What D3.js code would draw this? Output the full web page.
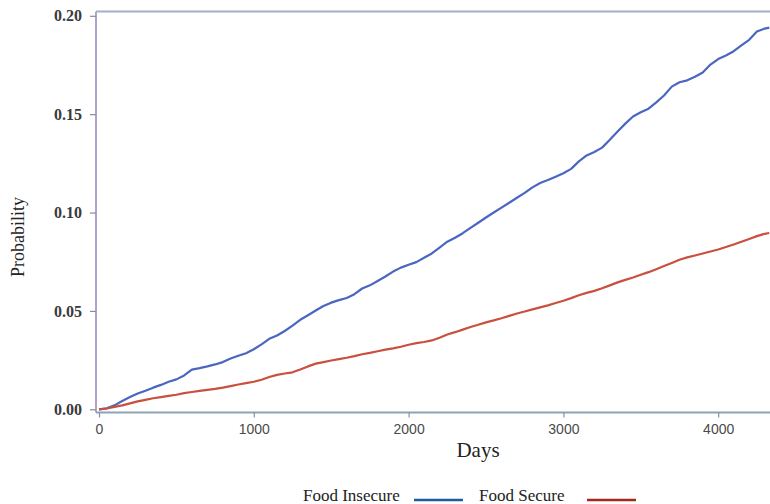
<!DOCTYPE html>
<html>
<head>
<meta charset="utf-8">
<script src="https://cdn.jsdelivr.net/npm/d3@7"></script>
<style>
  html, body { margin: 0; padding: 0; background: #fff; }
  svg { display: block; }
</style>
</head>
<body>
<svg id="chart" width="770" height="504"></svg>
<script>
// Cumulative probability of the event over follow-up time, by food security status
const days = [
  0, 50, 100, 150, 200, 250, 300, 350, 400, 450, 500, 550, 600, 650, 700, 750, 800, 850, 900, 950,
  1000, 1050, 1100, 1150, 1200, 1250, 1300, 1350, 1400, 1450, 1500, 1550, 1600, 1650, 1700, 1750,
  1800, 1850, 1900, 1950, 2000, 2050, 2100, 2150, 2200, 2250, 2300, 2350, 2400, 2450, 2500, 2550,
  2600, 2650, 2700, 2750, 2800, 2850, 2900, 2950, 3000, 3050, 3100, 3150, 3200, 3250, 3300, 3350,
  3400, 3450, 3500, 3550, 3600, 3650, 3700, 3750, 3800, 3850, 3900, 3950, 4000, 4050, 4100, 4150,
  4200, 4250, 4300, 4330
];

const foodInsecure = [
  0.0000, 0.0005, 0.0020, 0.0042, 0.0062, 0.0080, 0.0094, 0.0110, 0.0124, 0.0140, 0.0152, 0.0172,
  0.0202, 0.0209, 0.0218, 0.0228, 0.0240, 0.0258, 0.0272, 0.0285, 0.0305, 0.0330, 0.0358, 0.0375,
  0.0398, 0.0425, 0.0455, 0.0478, 0.0502, 0.0525, 0.0542, 0.0555, 0.0566, 0.0585, 0.0614, 0.0630,
  0.0652, 0.0675, 0.0700, 0.0720, 0.0735, 0.0748, 0.0770, 0.0792, 0.0822, 0.0852, 0.0872, 0.0895,
  0.0922, 0.0948, 0.0975, 0.1000, 0.1025, 0.1050, 0.1075, 0.1100, 0.1128, 0.1150, 0.1165, 0.1182,
  0.1200, 0.1222, 0.1260, 0.1290, 0.1308, 0.1330, 0.1370, 0.1412, 0.1452, 0.1488, 0.1510, 0.1528,
  0.1560, 0.1595, 0.1640, 0.1662, 0.1672, 0.1690, 0.1712, 0.1752, 0.1780, 0.1798, 0.1820, 0.1850,
  0.1878, 0.1920, 0.1935, 0.1940
];

const foodSecure = [
  0.0000, 0.0004, 0.0012, 0.0020, 0.0030, 0.0040, 0.0048, 0.0056, 0.0062, 0.0068, 0.0074, 0.0082,
  0.0088, 0.0094, 0.0099, 0.0104, 0.0110, 0.0118, 0.0126, 0.0133, 0.0140, 0.0150, 0.0164, 0.0175,
  0.0182, 0.0188, 0.0202, 0.0218, 0.0232, 0.0240, 0.0248, 0.0255, 0.0262, 0.0270, 0.0280, 0.0287,
  0.0295, 0.0303, 0.0310, 0.0318, 0.0328, 0.0336, 0.0342, 0.0350, 0.0364, 0.0380, 0.0392, 0.0405,
  0.0418, 0.0430, 0.0442, 0.0452, 0.0463, 0.0475, 0.0487, 0.0497, 0.0508, 0.0518, 0.0528, 0.0540,
  0.0552, 0.0565, 0.0580, 0.0592, 0.0602, 0.0615, 0.0630, 0.0645, 0.0658, 0.0670, 0.0684, 0.0697,
  0.0712, 0.0728, 0.0744, 0.0760, 0.0772, 0.0782, 0.0792, 0.0802, 0.0812, 0.0825, 0.0838, 0.0852,
  0.0866, 0.0880, 0.0892, 0.0896
];

const xTicks = [0, 1000, 2000, 3000, 4000];
const yTicks = [0, 0.05, 0.10, 0.15, 0.20];

const seriesNames = ["Food Insecure", "Food Secure"];
const lineColors = ["#4a66c0", "#c9503f"];
const legendColors = ["#1f5c9e", "#a3281e"];

const svg = d3.select("#chart");

const frame = { left: 96, top: 11.5, right: 782, bottom: 412.5 };

const x = d3.scaleLinear().domain([0, 4400]).range([99, 99 + 4400 * 0.1548]);
const y = d3.scaleLinear().domain([0, 0.2]).range([409.3, 15.8]);

// plot frame
svg.append("line")
  .attr("x1", frame.left).attr("x2", frame.right)
  .attr("y1", frame.top).attr("y2", frame.top)
  .attr("stroke", "#a3b0c4").attr("stroke-width", 2);
svg.append("line")
  .attr("x1", frame.right).attr("x2", frame.right)
  .attr("y1", frame.top).attr("y2", frame.bottom)
  .attr("stroke", "#a3b0c4").attr("stroke-width", 2);

// y axis
const yAxis = svg.append("g")
  .attr("transform", `translate(${frame.left},0)`)
  .call(d3.axisLeft(y).tickValues(yTicks).tickFormat(d3.format(".2f")).tickSize(6).tickPadding(8));
yAxis.select(".domain")
  .attr("d", `M0,${frame.top}V${frame.bottom}`)
  .attr("stroke", "#b3a3cc").attr("stroke-width", 2);
yAxis.selectAll(".tick line").attr("stroke", "#8a8a9a").attr("stroke-width", 1.2);
yAxis.selectAll(".tick text")
  .attr("font-family", "'Liberation Serif', 'Times New Roman', serif")
  .attr("font-weight", "bold")
  .attr("font-size", 16)
  .attr("fill", "#3a3a3a");

// x axis
const xAxis = svg.append("g")
  .attr("transform", `translate(0,${frame.bottom})`)
  .call(d3.axisBottom(x).tickValues(xTicks).tickFormat(d3.format("d")).tickSize(5).tickPadding(7));
xAxis.select(".domain")
  .attr("d", `M${frame.left},0H${frame.right}`)
  .attr("stroke", "#8fa3b8").attr("stroke-width", 2);
xAxis.selectAll(".tick line").attr("stroke", "#7f93a8").attr("stroke-width", 1.2);
xAxis.selectAll(".tick text")
  .attr("font-family", "'Liberation Sans', Arial, sans-serif")
  .attr("font-size", 14)
  .attr("fill", "#4a4a4a");

// curves
const line = d3.line()
  .curve(d3.curveLinear)
  .x((d, i) => x(days[i]))
  .y(d => y(d));

[foodInsecure, foodSecure].forEach((vals, k) => {
  svg.append("path")
    .datum(vals)
    .attr("fill", "none")
    .attr("stroke", lineColors[k])
    .attr("stroke-width", 2.2)
    .attr("stroke-linejoin", "round")
    .attr("d", line);
});

// axis titles
svg.append("text")
  .attr("x", 478).attr("y", 457)
  .attr("text-anchor", "middle")
  .attr("font-family", "'Liberation Serif', 'Times New Roman', serif")
  .attr("font-size", 21)
  .attr("fill", "#222")
  .text("Days");

svg.append("text")
  .attr("transform", "translate(24,237) rotate(-90)")
  .attr("text-anchor", "middle")
  .attr("font-family", "'Liberation Serif', 'Times New Roman', serif")
  .attr("font-size", 18)
  .attr("fill", "#222")
  .text("Probability");

// legend
const legendItems = [
  { tx: 303, lx1: 414, lx2: 463 },
  { tx: 479, lx1: 587, lx2: 636 }
];
legendItems.forEach((it, k) => {
  svg.append("text")
    .attr("x", it.tx).attr("y", 501)
    .attr("font-family", "'Liberation Serif', 'Times New Roman', serif")
    .attr("font-size", 17)
    .attr("fill", "#222")
    .text(seriesNames[k]);
  svg.append("line")
    .attr("x1", it.lx1).attr("x2", it.lx2)
    .attr("y1", 500).attr("y2", 500)
    .attr("stroke", legendColors[k]).attr("stroke-width", 2.5);
});
</script>
</body>
</html>
